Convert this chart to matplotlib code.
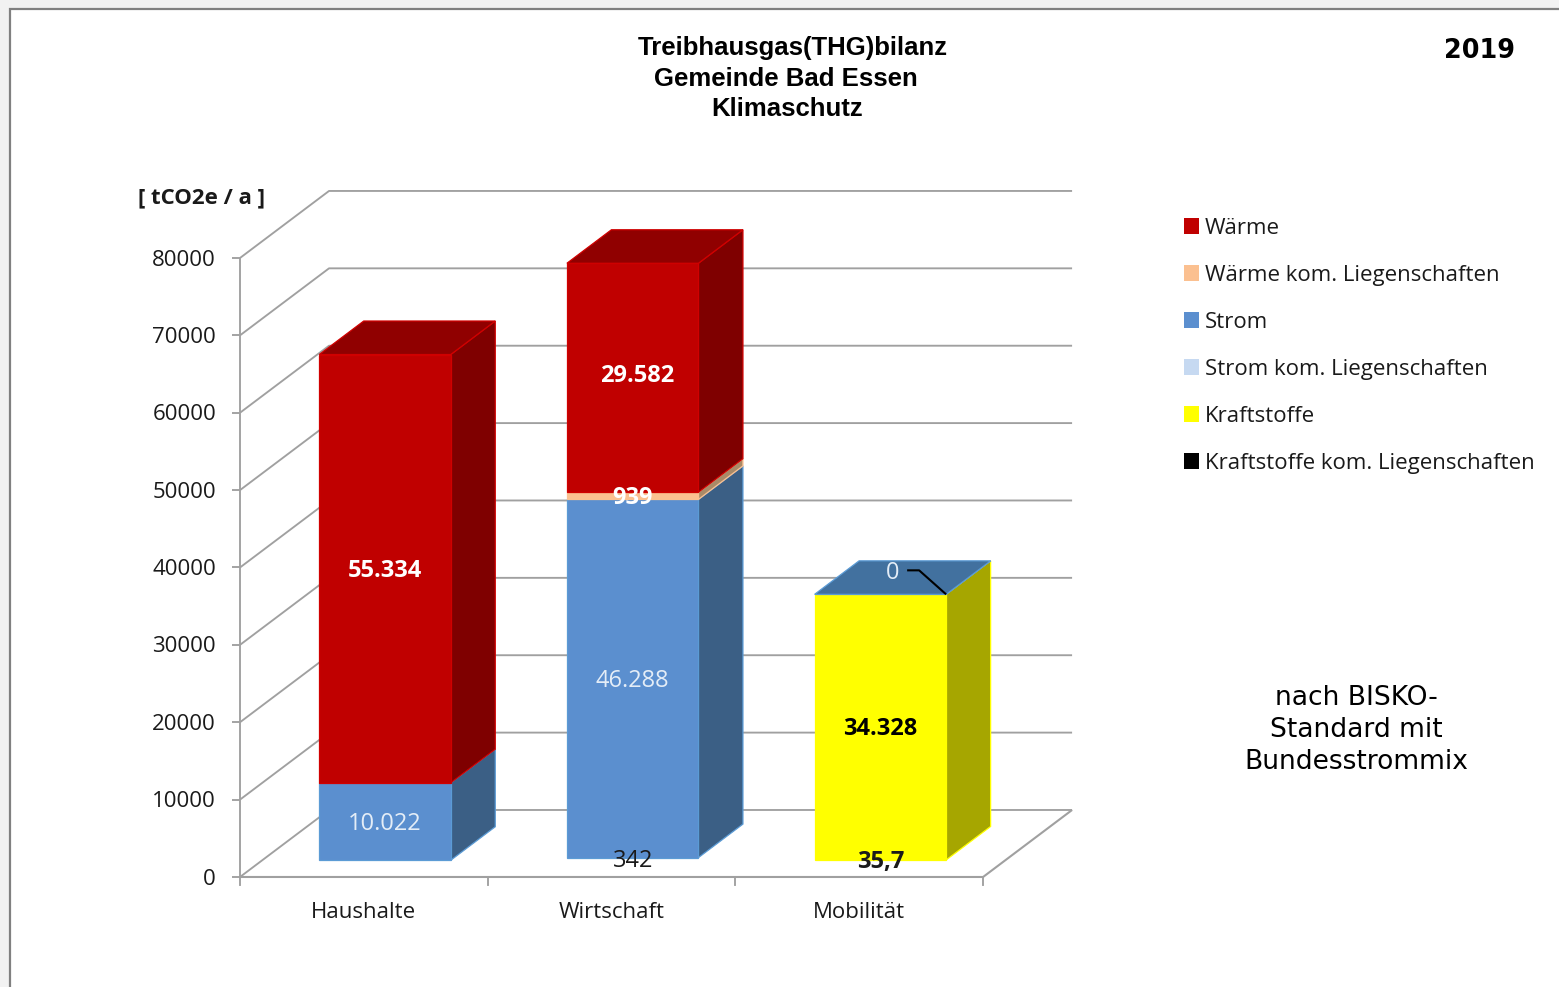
"""
plot.py: Treibhausgas-Bilanz Bad Essen 2019, stacked pseudo-3D columns.
Writes out.png at 1559x987.
"""
import matplotlib
matplotlib.use("Agg")
import matplotlib.pyplot as plt
import numpy as np
from matplotlib.patches import Patch, Rectangle

W, H = 1559, 987
GRID, INK = "#A0A0A0", "#1A1A1A"
BODY = "Open Sans"

categories = ["Haushalte", "Wirtschaft", "Mobilität"]
y_ticks = [0, 10000, 20000, 30000, 40000, 50000, 60000, 70000, 80000]

# stacked bottom to top, nan = the series has no segment in that column
kraftstoffe_kom = [np.nan, np.nan, 35.7]
kraftstoffe = [np.nan, np.nan, 34328]
strom_kom = [np.nan, 342, np.nan]
strom = [10022, 46288, 0]
waerme_kom = [np.nan, 939, np.nan]
waerme = [55334, 29582, np.nan]

labels_kraftstoffe_kom = ["", "", "35,7"]
labels_kraftstoffe = ["", "", "34.328"]
labels_strom_kom = ["", "342", ""]
labels_strom = ["10.022", "46.288", "0"]
labels_waerme_kom = ["", "939", ""]
labels_waerme = ["55.334", "29.582", ""]

legend_names = ["Wärme", "Wärme kom. Liegenschaften", "Strom",
                "Strom kom. Liegenschaften", "Kraftstoffe",
                "Kraftstoffe kom. Liegenschaften"]

# front, side, top, edge, label colour, label weight; None = not drawn
STACK = [
    (kraftstoffe_kom, labels_kraftstoffe_kom, None, None, None, None, INK, "bold"),
    (kraftstoffe, labels_kraftstoffe, "#FFFF00", "#A6A600", "#A6A600", "#FFFF00", "black", "bold"),
    (strom_kom, labels_strom_kom, None, None, None, None, INK, "normal"),
    (strom, labels_strom, "#5B8FCF", "#3B5F85", "#42719F", "#5B9BD5", "#E4EDF7", "normal"),
    (waerme_kom, labels_waerme_kom, "#FBC090", "#A98A68", "#A98A68", "#FBC090", "white", "bold"),
    (waerme, labels_waerme, "#C00000", "#7F0000", "#900000", "#D00000", "white", "bold"),
]
LEGEND_COLORS = ["#C00000", "#FBC090", "#5B8FCF", "#C6D9F1", "#FFFF00", "#000000"]

# one full-figure axes: x in categories, y in tCO2e
PX_CAT, PX_VAL = 247.67, 0.007737
X0, Y0 = 240, 877
DX, DY = 89 / PX_CAT, 67 / PX_VAL
BAR_LEFT, BAR_W = 0.23, 0.531
D_FRONT, D_BACK = 0.25, 0.75


def fx(px):
    return px / W


def fy(py):
    return 1 - py / H


def pt(x, v, d=0.0):
    return x + d * DX, v + d * DY


def line(ax, pts, color=GRID, lw=1.35, z=1):
    xs, ys = zip(*pts)
    ax.plot(xs, ys, color=color, lw=lw, zorder=z, solid_capstyle="butt")


def face(ax, pts, color, edge, z):
    xs, ys = zip(*pts)
    ax.fill(xs, ys, facecolor=color, edgecolor=edge, lw=0.9, zorder=z,
            joinstyle="miter")


def draw_walls(ax):
    n = len(categories)
    for v in y_ticks:
        line(ax, [pt(0, v), pt(0, v, 1), pt(n, v, 1)])
        line(ax, [pt(-8 / PX_CAT, v), pt(0, v)])
    line(ax, [pt(0, y_ticks[0]), pt(0, y_ticks[-1])])
    line(ax, [pt(0, 0), pt(n, 0), pt(n, 0, 1)], lw=1.5)
    for i in range(n + 1):
        ax.plot([i, i], [0, -8 / PX_VAL], color=GRID, lw=1.35, zorder=1)


def draw_column(ax, i):
    x0, x1 = i + BAR_LEFT, i + BAR_LEFT + BAR_W
    base, z, top_style = 0.0, 5, None
    for vals, labs, front, side, top, edge, lab_col, lab_wt in STACK:
        v = vals[i]
        if np.isnan(v):
            continue
        v0, v1 = base, base + v
        base = v1
        if front is not None:
            face(ax, [pt(x1, v0, D_FRONT), pt(x1, v0, D_BACK),
                      pt(x1, v1, D_BACK), pt(x1, v1, D_FRONT)], side, edge, z)
            face(ax, [pt(x0, v0, D_FRONT), pt(x1, v0, D_FRONT),
                      pt(x1, v1, D_FRONT), pt(x0, v1, D_FRONT)], front, edge, z + 1)
            top_style = (top, edge)
        z += 2
    # lid of the column takes the colour of the last series in the stack
    face(ax, [pt(x0, base, D_FRONT), pt(x1, base, D_FRONT),
              pt(x1, base, D_BACK), pt(x0, base, D_BACK)], top_style[0], top_style[1], z)


def draw_labels(ax, i):
    cx = i + BAR_LEFT + BAR_W / 2
    base = 0.0
    for vals, labs, front, side, top, edge, lab_col, lab_wt in STACK:
        v = vals[i]
        if np.isnan(v):
            continue
        mid = base + v / 2
        base += v
        x, y = pt(cx, mid, D_FRONT)
        if labs[i] == "0":
            # leader from the zero-height segment up into the lid
            px = 0.72
            ax.annotate("0", xy=pt(i + BAR_LEFT + BAR_W, base, D_FRONT),
                        xytext=(-54 * px, 21 * px), textcoords="offset points",
                        ha="center", va="center", color=lab_col, fontsize=17,
                        family=BODY, zorder=30)
            x1, y1 = pt(i + BAR_LEFT + BAR_W, base, D_FRONT)
            line(ax, [(x1, y1), (x1 - 27 / PX_CAT, y1 + 24 / PX_VAL),
                      (x1 - 39 / PX_CAT, y1 + 24 / PX_VAL)],
                 color="black", lw=1.5, z=30)
        elif labs[i]:
            nudge = (4, 2) if labs[i] == "29.582" else (0, -2)
            ax.text(x + nudge[0] / PX_CAT, y + nudge[1] / PX_VAL, labs[i],
                    ha="center", va="center", color=lab_col, fontsize=17,
                    fontweight=lab_wt, family=BODY, zorder=30)


def main():
    fig = plt.figure(figsize=((W + 0.1) / 100, (H + 0.1) / 100), dpi=100, facecolor="#F2F2F2")
    fig.patches.append(Rectangle((fx(10), -0.02), 1.1, fy(9) + 0.02, transform=fig.transFigure,
                                 facecolor="white", edgecolor="#808080", lw=1.6, zorder=-1))
    ax = fig.add_axes([0, 0, 1, 1])
    ax.patch.set_alpha(0)
    ax.set_xlim(-X0 / PX_CAT, (W - X0) / PX_CAT)
    ax.set_ylim((Y0 - H) / PX_VAL, Y0 / PX_VAL)
    ax.axis("off")

    draw_walls(ax)
    for i in range(len(categories)):
        draw_column(ax, i)
    for i in range(len(categories)):
        draw_labels(ax, i)

    for v in y_ticks:
        ax.text(-24 / PX_CAT, v - 2 / PX_VAL, str(v), ha="right", va="center", fontsize=16,
                family=BODY, color=INK)
    for i, c in enumerate(categories):
        ax.text(i + 0.5, -35 / PX_VAL, c, ha="center", va="center", fontsize=16,
                family=BODY, color=INK)

    titles = [("Treibhausgas(THG)bilanz", 793, 48), ("Gemeinde Bad Essen", 786, 79),
              ("Klimaschutz", 787, 109)]
    for t, x, y in titles:
        fig.text(fx(x), fy(y), t, ha="center", va="center", fontsize=18.5,
                 fontweight="bold", family="Liberation Sans", color="black")
    fig.text(fx(1515), fy(51), "2019", ha="right", va="center", fontsize=18.4,
             fontweight="bold", family="DejaVu Sans", color="black")
    fig.text(fx(138), fy(198), "[ tCO2e / a ]", ha="left", va="center", fontsize=16,
             fontweight="bold", family=BODY, color=INK)
    for t, y in [("nach BISKO-", 698), ("Standard mit", 730), ("Bundesstrommix", 762)]:
        fig.text(fx(1356), fy(y), t, ha="center", va="center", fontsize=19.1,
                 family="DejaVu Sans", color="black")

    handles = [Patch(facecolor=c, edgecolor="none") for c in LEGEND_COLORS]
    ax.legend(handles, legend_names, loc="upper left", frameon=False,
              bbox_to_anchor=(fx(1184), fy(218)), bbox_transform=fig.transFigure,
              borderaxespad=0, borderpad=0, handlelength=0.68, handleheight=0.68,
              handletextpad=0.26, labelspacing=1.17,
              prop={"family": BODY, "size": 16}, labelcolor=INK)
    fig.savefig("out.png", dpi=100, facecolor=fig.get_facecolor())


if __name__ == "__main__":
    main()
